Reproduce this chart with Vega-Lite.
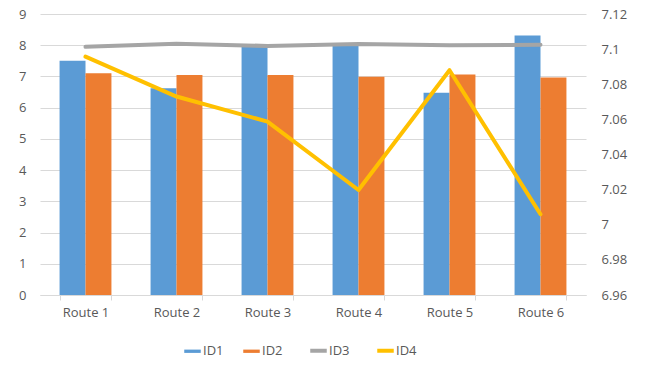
{
  "$schema": "https://vega.github.io/schema/vega-lite/v6.json",
  "width": 546,
  "height": 281,
  "padding": {"left": 40, "top": 14, "right": 60, "bottom": 72},
  "autosize": {"type": "none"},
  "background": "white",
  "config": {
    "view": {"stroke": null},
    "font": "Open Sans",
    "axis": {"labelColor": "#595959", "labelFontSize": 13, "labelFont": "Open Sans", "title": null}
  },
  "data": {
    "values": [
      {"route": "Route 1", "series": "ID1", "value": 7.5},
      {"route": "Route 2", "series": "ID1", "value": 6.62},
      {"route": "Route 3", "series": "ID1", "value": 7.95},
      {"route": "Route 4", "series": "ID1", "value": 8.04},
      {"route": "Route 5", "series": "ID1", "value": 6.48},
      {"route": "Route 6", "series": "ID1", "value": 8.31},
      {"route": "Route 1", "series": "ID2", "value": 7.1},
      {"route": "Route 2", "series": "ID2", "value": 7.05},
      {"route": "Route 3", "series": "ID2", "value": 7.05},
      {"route": "Route 4", "series": "ID2", "value": 6.99},
      {"route": "Route 5", "series": "ID2", "value": 7.06},
      {"route": "Route 6", "series": "ID2", "value": 6.97},
      {"route": "Route 1", "series": "ID3", "value": 7.1013},
      {"route": "Route 2", "series": "ID3", "value": 7.1031},
      {"route": "Route 3", "series": "ID3", "value": 7.1018},
      {"route": "Route 4", "series": "ID3", "value": 7.1029},
      {"route": "Route 5", "series": "ID3", "value": 7.1022},
      {"route": "Route 6", "series": "ID3", "value": 7.1025},
      {"route": "Route 1", "series": "ID4", "value": 7.0957},
      {"route": "Route 2", "series": "ID4", "value": 7.073},
      {"route": "Route 3", "series": "ID4", "value": 7.0587},
      {"route": "Route 4", "series": "ID4", "value": 7.0198},
      {"route": "Route 5", "series": "ID4", "value": 7.088},
      {"route": "Route 6", "series": "ID4", "value": 7.006}
    ]
  },
  "encoding": {
    "x": {
      "field": "route", "type": "nominal", "sort": null,
      "scale": {"paddingInner": 0.43, "paddingOuter": 0.215},
      "axis": {"labelAngle": 0, "domainColor": "#D9D9D9", "tickColor": "#D9D9D9", "tickBand": "extent", "tickSize": 5, "labelPadding": 6, "grid": false}
    },
    "color": {
      "field": "series", "type": "nominal",
      "scale": {"domain": ["ID1", "ID2", "ID3", "ID4"], "range": ["#5B9BD5", "#ED7D31", "#A5A5A5", "#FFC000"]},
      "legend": {
        "orient": "none", "legendX": 146, "legendY": 330, "direction": "horizontal", "title": null,
        "labelColor": "#595959", "labelFontSize": 13, "labelFont": "Open Sans",
        "symbolSize": 1089, "columnPadding": 19, "labelOffset": 4,
        "encode": {
          "symbols": {
            "update": {
              "shape": {"signal": "indexof(['ID3','ID4'], datum.value) >= 0 ? 'M-0.5,0H0.5' : 'M-0.5,-0.1H0.5V0.1H-0.5Z'"},
              "fill": {"signal": "indexof(['ID3','ID4'], datum.value) >= 0 ? 'transparent' : scale('color', datum.value)"},
              "stroke": {"signal": "scale('color', datum.value)"},
              "strokeWidth": {"signal": "indexof(['ID3','ID4'], datum.value) >= 0 ? 4 : 0"},
              "opacity": {"value": 1}
            }
          }
        }
      }
    }
  },
  "layer": [
    {
      "transform": [{"filter": "datum.series == 'ID1' || datum.series == 'ID2'"}],
      "mark": {"type": "bar"},
      "encoding": {
        "xOffset": {"field": "series", "type": "nominal", "scale": {"paddingInner": 0, "paddingOuter": 0}},
        "y": {
          "field": "value", "type": "quantitative",
          "scale": {"domain": [0, 9], "nice": false, "zero": true},
          "axis": {"values": [0,1,2,3,4,5,6,7,8,9], "domain": false, "ticks": false, "grid": true, "gridColor": "#D9D9D9", "labelPadding": 14}
        }
      }
    },
    {
      "transform": [{"filter": "datum.series == 'ID3' || datum.series == 'ID4'"}],
      "mark": {"type": "line", "strokeWidth": 4, "strokeCap": "round", "strokeJoin": "round"},
      "encoding": {
        "y": {
          "field": "value", "type": "quantitative",
          "scale": {"domain": [6.96, 7.12], "nice": false, "zero": false},
          "axis": {"orient": "right", "values": [6.96, 6.98, 7, 7.02, 7.04, 7.06, 7.08, 7.1, 7.12], "format": ".2~f", "domain": false, "ticks": false, "grid": false, "labelPadding": 15}
        }
      }
    }
  ],
  "resolve": {"scale": {"y": "independent"}}
}
